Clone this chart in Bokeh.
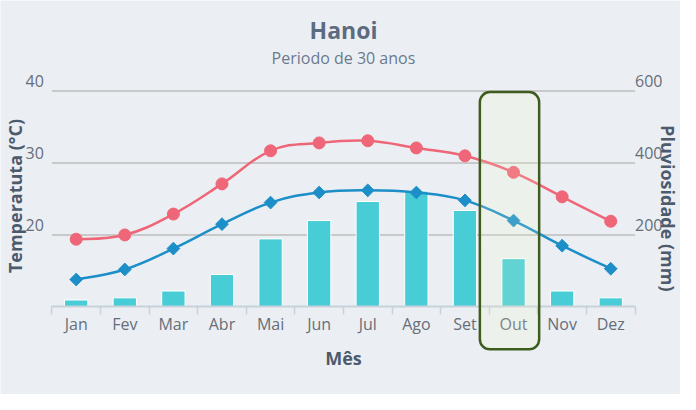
import numpy as np
from bokeh.plotting import figure
from bokeh.models import Range1d, LinearAxis, FixedTicker, BoxAnnotation, Label
from bokeh.core.properties import value
from bokeh.embed import file_html
from bokeh.resources import INLINE

# ---------------- data ----------------
months = ["Jan", "Fev", "Mar", "Abr", "Mai", "Jun", "Jul", "Ago", "Set", "Out", "Nov", "Dez"]
temp_max = [19.4, 20.0, 22.9, 27.1, 31.7, 32.8, 33.1, 32.1, 31.0, 28.7, 25.3, 21.9]
temp_min = [13.8, 15.2, 18.1, 21.5, 24.5, 25.9, 26.2, 25.9, 24.8, 22.0, 18.5, 15.3]
rain = [19, 25, 44, 90, 189, 240, 293, 322, 268, 134, 44, 25]
temp_ticks = [10, 20, 30, 40]
rain_ticks = [0, 200, 400, 600]
highlight_month = "Out"

FONT = "Open Sans"
BG = "#ebeff4"
LABEL_C = "#666e78"
TITLE_C = "#4d5a6c"

# ---------------- layout ----------------
W, H = 680, 394
# the reference panel spans x 8..696, y 10..410; map its pixels onto the figure
SX, SY = W / 688, H / 400
def px(rx): return (rx - 8) * SX
def py(ry): return (ry - 10) * SY

FL, FR, FT, FB = px(60), px(650), py(102), py(321)   # plotting area

n = len(months)
xc = [i + 0.5 for i in range(n)]
tmin, tmax = temp_ticks[0], temp_ticks[-1]
rmin, rmax = rain_ticks[0], rain_ticks[-1]
xpx = (FR - FL) / n
ypx = (FB - FT) / (tmax - tmin)
X0 = -FL / xpx
X1 = n + (W - FR) / xpx
Y0 = tmin - (H - FB) / ypx
Y1 = tmax + FT / ypx
rs = (rmax - rmin) / (tmax - tmin)

def xat(rx): return (px(rx) - FL) / xpx
def yat(ry): return tmax - (py(ry) - FT) / ypx


p = figure(width=W, height=H, output_backend="svg", toolbar_location=None,
           x_range=Range1d(X0, X1), y_range=Range1d(Y0, Y1),
           min_border=0, x_axis_type=None, y_axis_type=None)
p.background_fill_color = BG
p.border_fill_color = BG
p.outline_line_color = None
p.extra_y_ranges = {"rain": Range1d(rmin + (Y0 - tmin) * rs, rmin + (Y1 - tmin) * rs)}
p.grid.visible = False

# ---------------- grid lines ----------------
gt = temp_ticks[1:]
p.segment(x0=[0] * len(gt), x1=[n] * len(gt), y0=gt, y1=gt,
          line_color="#c9c9c9", line_width=2)

# ---------------- bars ----------------
p.vbar(x=xc, top=rain, bottom=rmin, width=0.48, y_range_name="rain",
       fill_color="#48ccd6", line_color="white", line_width=1)


# ---------------- spline lines ----------------
def spline(xs, ys, k=0.2):
    m = len(xs)
    out = dict(x0=[], y0=[], x1=[], y1=[], cx0=[], cy0=[], cx1=[], cy1=[])
    for i in range(m - 1):
        xp, yp = (xs[i - 1], ys[i - 1]) if i > 0 else (xs[i], ys[i])
        xn, yn = (xs[i + 2], ys[i + 2]) if i + 2 < m else (xs[i + 1], ys[i + 1])
        out["x0"].append(xs[i]); out["y0"].append(ys[i])
        out["x1"].append(xs[i + 1]); out["y1"].append(ys[i + 1])
        out["cx0"].append(xs[i] + (xs[i + 1] - xp) * k)
        out["cy0"].append(ys[i] + (ys[i + 1] - yp) * k)
        out["cx1"].append(xs[i + 1] - (xn - xs[i]) * k)
        out["cy1"].append(ys[i + 1] - (yn - ys[i]) * k)
    return out


RED = "#ee6677"
BLUE = "#1d8fc8"
p.bezier(**spline(xc, temp_max), line_color=RED, line_width=2.5)
p.scatter(xc, temp_max, marker="circle", size=12, fill_color=RED, line_color=RED)
p.bezier(**spline(xc, temp_min), line_color=BLUE, line_width=2.5)
p.scatter(xc, temp_min, marker="square", angle=np.pi / 4, size=9, fill_color=BLUE, line_color=BLUE)

# ---------------- highlight box ----------------
p.add_layout(BoxAnnotation(left=xat(493), right=xat(553), top=yat(103), bottom=yat(364),
                           fill_color="#fbffc0", fill_alpha=0.15,
                           line_color="#3d5c1e", line_alpha=1.0, line_width=2.5,
                           border_radius=10))

# ---------------- x axis ----------------
xa = LinearAxis(fixed_location=tmin, bounds=(0, n))
xa.ticker = FixedTicker(ticks=xc, minor_ticks=list(range(n + 1)))
xa.major_label_overrides = {x: m for x, m in zip(xc, months)}
xa.major_tick_line_color = None
xa.major_tick_out = 0
xa.minor_tick_in = 0
xa.minor_tick_out = 8
xa.minor_tick_line_color = "#c6d1dc"
xa.minor_tick_line_width = 1.5
xa.axis_line_color = "#c6d1dc"
xa.axis_line_width = 2
xa.major_label_text_color = LABEL_C
xa.major_label_text_font = FONT
xa.major_label_text_font_size = "16px"
xa.major_label_standoff = -2
xa.axis_label = "Mês"
xa.axis_label_text_font = FONT
xa.axis_label_text_font_size = "18px"
xa.axis_label_text_font_style = "bold"
xa.axis_label_text_color = TITLE_C
xa.axis_label_standoff = 8
p.add_layout(xa, "below")

# ---------------- y tick labels ----------------
p.text(x=[0] * len(gt), y=gt, text=[str(t) for t in gt], x_offset=-8, y_offset=-10,
       text_align="right", text_baseline="middle", text_font=value(FONT),
       text_font_size="16px", text_color=LABEL_C)
rt = rain_ticks[1:]
p.text(x=[n] * len(rt), y=rt, text=[str(t) for t in rt], x_offset=0, y_offset=-10,
       y_range_name="rain", text_align="left", text_baseline="middle",
       text_font=value(FONT), text_font_size="16px", text_color=LABEL_C)

# ---------------- axis titles ----------------
p.add_layout(Label(x=xat(23), y=yat(208.5), text="Temperatuta (°C)", angle=np.pi / 2,
                   text_align="center", text_baseline="middle", text_font=FONT,
                   text_font_size="18px", text_font_style="bold", text_color=TITLE_C))
p.add_layout(Label(x=(W - 13 - FL) / xpx, y=yat(221), text="Pluviosidade (mm)",
                   angle=-np.pi / 2, text_align="center", text_baseline="middle",
                   text_font=FONT, text_font_size="18px", text_font_style="bold",
                   text_color=TITLE_C))

# ---------------- titles ----------------
p.add_layout(Label(x=n / 2, y=yat(40), text="Hanoi", text_align="center",
                   text_baseline="middle", text_font=FONT, text_font_size="23px",
                   text_font_style="bold", text_color="#5d6b80"))
p.add_layout(Label(x=n / 2, y=yat(68), text="Periodo de 30 anos", text_align="center",
                   text_baseline="middle", text_font=FONT, text_font_size="16px",
                   text_color="#6b7a8d"))

open("out.html", "w").write(file_html(p, INLINE))
